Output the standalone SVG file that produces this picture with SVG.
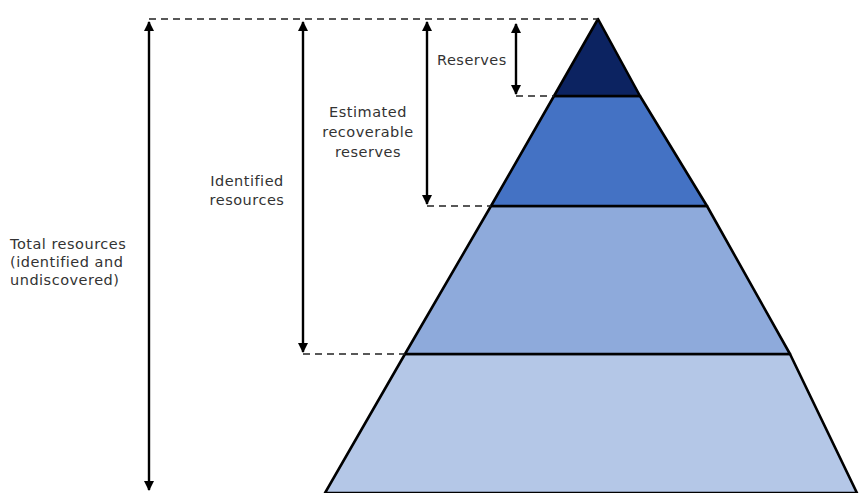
<svg xmlns="http://www.w3.org/2000/svg" width="863" height="493" viewBox="0 0 863 493">
<style>
.t{font-family:"DejaVu Sans",Verdana,sans-serif;font-size:14.5px;letter-spacing:0.5px;fill:#333}
.dash{stroke:#222;stroke-width:1.6;stroke-dasharray:7,5;fill:none}
.arr{stroke:#000;stroke-width:2.4;fill:none;marker-start:url(#ah);marker-end:url(#ah)}
.layer{stroke:#000;stroke-width:2.6;stroke-linejoin:round}
</style>
<defs>
<marker id="ah" viewBox="0 0 10 10" refX="9" refY="5" markerWidth="4.2" markerHeight="4.2" orient="auto-start-reverse">
<path d="M0,0 L10,5 L0,10 Z" fill="#000"/>
</marker>
</defs>
<rect width="863" height="493" fill="#fff"/>
<g id="pyramid">
<polygon id="layer4" class="layer" points="405,354 790,354 857,493 325,493" fill="#b4c7e7"/>
<polygon id="layer3" class="layer" points="491,206 707,206 790,354 405,354" fill="#8eaadb"/>
<polygon id="layer2" class="layer" points="554,96 640,96 707,206 491,206" fill="#4472c4"/>
<polygon id="layer1" class="layer" points="598,19 640,96 554,96" fill="#0c2361"/>
</g>
<g id="connectors">
<path class="dash" d="M149,19 H598"/>
<path class="dash" d="M516,96 H554"/>
<path class="dash" d="M427,206 H491"/>
<path class="dash" d="M303,354 H405"/>
<path class="arr" d="M149,22 V490"/>
<path class="arr" d="M303,22 V352"/>
<path class="arr" d="M427,22 V204"/>
<path class="arr" d="M516,24 V94"/>
</g>
<g id="labels">
<text class="t" x="437" y="65">Reserves</text>
<text class="t" x="368" y="117" text-anchor="middle">Estimated</text>
<text class="t" x="368" y="137" text-anchor="middle">recoverable</text>
<text class="t" x="368" y="157" text-anchor="middle">reserves</text>
<text class="t" x="247" y="186" text-anchor="middle">Identified</text>
<text class="t" x="247" y="205" text-anchor="middle">resources</text>
<text class="t" x="10" y="249">Total resources</text>
<text class="t" x="10" y="267">(identified and</text>
<text class="t" x="10" y="285">undiscovered)</text>
</g>
</svg>
